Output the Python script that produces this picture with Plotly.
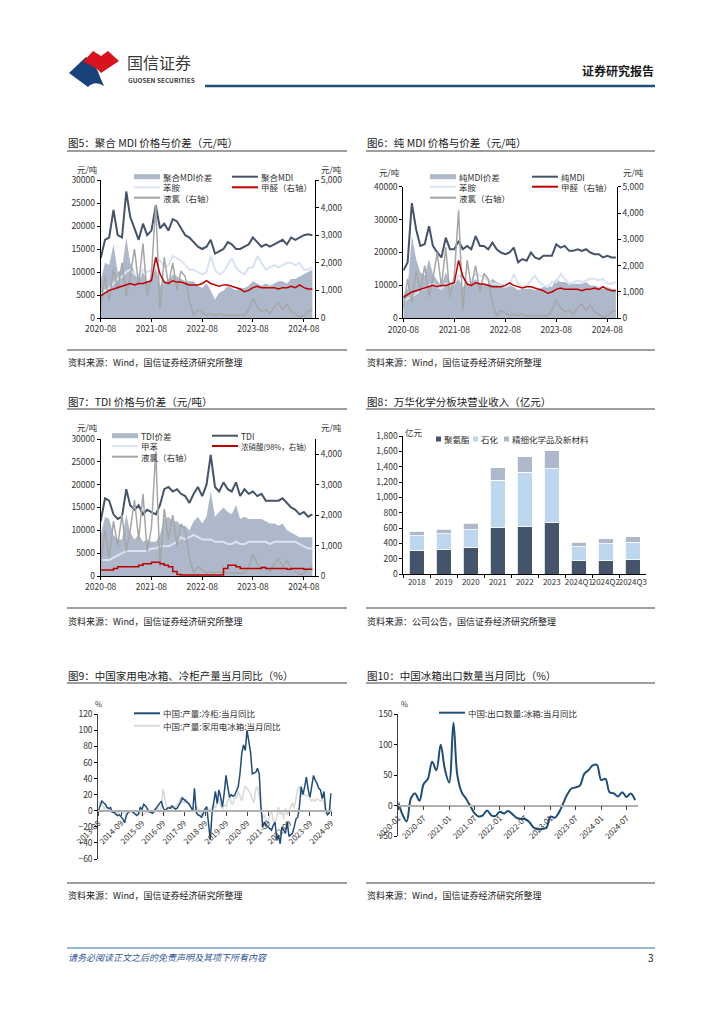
import plotly.graph_objects as go
import pandas as pd

# ---------------- DATA ----------------
# Charts 5-7: monthly prices, 2020-08 .. 2024-10 (元/吨)
price_months = pd.date_range("2020-08-01", "2024-10-01", freq="MS")

poly_mdi = [13000, 17000, 17500, 23500, 18000,
            17500, 27500, 22000, 19500, 17000, 20500, 18000, 19000, 24500, 19500, 20500, 19000,
            21500, 21000, 19500, 18000, 17500, 16500, 15500, 15000, 15500, 17000, 14000, 14500,
            15000, 16500, 16000, 15000, 15000, 15500, 16000, 17500, 16500, 15500, 16000, 15500,
            16000, 16500, 17000, 16000, 17500, 17000, 17500, 18000, 18200, 18000]
poly_spread = [8000, 12000, 11500, 16000, 10000,
               10500, 17500, 12000, 10000, 8000, 10000, 8000, 8500, 11000, 7000, 8000, 8000,
               9500, 9000, 8500, 8000, 8000, 8000, 7000, 6500, 7500, 6000, 4000, 5500,
               6000, 7000, 6500, 6000, 6500, 6500, 7000, 8000, 7500, 7000, 7500, 7000,
               7500, 8000, 8000, 7500, 8500, 8500, 9000, 9500, 10000, 10500]
aniline = [5000, 6000, 6500, 7500, 8500,
           9000, 10000, 10500, 9500, 9000, 10500, 10000, 10500, 13000, 12500, 11000, 11500,
           13500, 13000, 12500, 11500, 10500, 10500, 10000, 9500, 10000, 13500, 10500, 9500,
           10000, 11500, 13000, 11000, 10000, 9500, 11000, 11000, 13500, 12000, 10500, 11000,
           11500, 11000, 11500, 12000, 12000, 11500, 12000, 10500, 10500, 11000]
formaldehyde = [800, 900, 1000, 1050, 1100,
                1150, 1200, 1250, 1200, 1250, 1250, 1300, 1350, 2200, 1600, 1300, 1250,
                1350, 1300, 1300, 1250, 1200, 1200, 1200, 1250, 1350, 1250, 1200, 1150,
                1200, 1200, 1150, 1100, 1050, 950, 1000, 1100, 1150, 1100, 1100, 1100,
                1100, 1050, 1100, 1100, 1150, 1100, 1200, 1100, 1050, 1050]
chlorine = [400, 1500, 600, 1800, 1000,
            2000, 800, 1500, 2500, 1200, 2700, 800, 1600, 4100, 300, 2200, 1200,
            2000, 1000, 1700, 1500, 600, 100, 300, 200, 100, 150, 100, 150,
            100, 100, 100, 100, 100, 100, 300, 700, 400, 250, 300, 150,
            400, 550, 300, 500, 250, 150, 50, 80, 250, 300]
pure_mdi = [14500, 17000, 35000, 27000, 22000,
            22500, 28000, 22000, 20000, 18500, 24500, 21000, 21000, 23500, 21000, 22000, 21000,
            25000, 22000, 22000, 21000, 23000, 21000, 20000, 19500, 20000, 21500, 17000, 18000,
            17500, 20000, 18500, 18000, 19000, 19000, 19000, 22500, 21500, 22000, 20500, 20500,
            21000, 20500, 21000, 20000, 19500, 19500, 18500, 19000, 18500, 18500]
pure_spread = [7000, 9000, 25000, 18000, 14000,
               13000, 18000, 13500, 11500, 10000, 14000, 11000, 10500, 12000, 9500, 10500, 10500,
               12000, 10500, 10500, 10500, 12000, 11000, 10500, 10000, 10000, 9500, 8500, 9000,
               9000, 9000, 8500, 9000, 9500, 10000, 9500, 12000, 11000, 11000, 10500, 10500,
               10500, 10500, 11000, 10000, 10000, 9500, 9000, 9500, 9000, 9000]
tdi = [12000, 17000, 16500, 13500, 12500,
       13000, 19000, 15500, 14500, 15500, 13500, 14500, 14000, 13500, 15500, 19000, 19500,
       18500, 19000, 18000, 17500, 16000, 18000, 19500, 17500, 20000, 26500, 19500, 18500,
       20500, 19000, 18500, 20500, 17500, 19000, 18000, 18500, 17500, 18000, 16500, 16500,
       16500, 16500, 17000, 16000, 15000, 14500, 13500, 14000, 13000, 13500]
tdi_spread = [9000, 13000, 12500, 9000, 8000,
              8000, 13500, 9500, 8000, 9000, 7500, 8000, 7500, 7500, 9000, 12500, 13000,
              12000, 12000, 11000, 11000, 10000, 12000, 13000, 11500, 13000, 18500, 13000, 14000,
              15000, 14000, 13500, 15500, 12500, 13000, 12500, 12500, 12500, 12500, 12000, 11500,
              11500, 11000, 11500, 10000, 9500, 9000, 8500, 8500, 8500, 8500]
toluene = [3500, 3500, 3500, 4000, 4500,
           5000, 5500, 5500, 5500, 5500, 5500, 5500, 6000, 6000, 6500, 6500, 6500,
           7000, 7500, 8500, 8000, 8500, 9000, 8500, 8000, 8000, 8000, 7500, 7500,
           7500, 7000, 7000, 7500, 7000, 7000, 7500, 7500, 7500, 7500, 7500, 7000,
           7500, 7500, 7500, 7500, 7500, 7500, 7000, 6500, 6000, 6000]
nitric_acid = [200, 200, 200, 250, 300,
               300, 300, 300, 300, 350, 400, 400, 450, 450, 400, 350, 300,
               150, 50, 30, 30, 30, 30, 30, 30, 30, 30, 30, 30,
               250, 350, 350, 300, 250, 250, 250, 250, 250, 280, 250, 250,
               250, 250, 250, 220, 250, 250, 250, 220, 220, 220]

# Chart 8: Wanhua segment revenue (亿元)
seg_categories = ["2018", "2019", "2020", "2021", "2022", "2023", "2024Q1", "2024Q2", "2024Q3"]
seg_polyurethane = [309, 317, 352, 604, 626, 678, 174, 174, 191]
seg_petrochem = [191, 205, 222, 622, 704, 692, 183, 222, 222]
seg_fine_chem = [57, 65, 87, 157, 200, 239, 60, 61, 70]

# Chart 9: monthly YoY production (%), 2013-08 .. 2024-09
prod_months = pd.date_range("2013-08-01", "2024-09-01", freq="MS")
freezer_yoy = [0, 6, 12, 10, 8, 4, 3, 4, -2, -2,
               -4, -6, -5, -8, -10, -15, -6, -2, 0, 0,
               -2, -3, -6, -4, 4, 2, 8, 6, 2, -1,
               -2, -3, 0, 3, 6, 9, 12, 4, 0, 2,
               4, 3, 6, 4, 2, 3, 6, 10, 16, 14,
               12, 10, 8, 4, 0, 28, -2, -5, -6, -8,
               -2, 2, 5, -20, -36, -3, 12, 24, 9, 26,
               17, 5, 22, 44, 30, 17, 20, 18, 20, 25,
               30, 46, 71, 82, 75, 100, 88, 73, 46, 47,
               48, 53, 46, 5, -20, -14, -18, -20, -22, -24,
               -18, -14, -37, -30, -41, -20, -24, -28, -14, -32,
               -30, -28, -20, -10, -8, 5, 30, 20, 30, 42,
               26, 17, 30, 44, 38, 34, 28, 26, 15, 24,
               1, -5, -3, 22]
fridge_yoy = [12, 10, 8, 5, 2, 0, 2, 0, -2, -1,
              -3, -2, -4, -5, -3, -2, -4, -3, -2, -1,
              -3, -5, -2, 0, -3, -6, -4, -3, -2, -1,
              0, -3, -2, 2, 3, -2, 4, 27, 18, 5,
              3, 5, 2, 6, 4, 8, 10, 16, 12, 10,
              15, 12, 6, 5, 2, 0, 5, 2, 0, -5,
              -8, 3, 5, 2, 0, 5, 8, 3, 10, 15,
              6, 2, 8, 5, 12, 18, 10, 8, 20, 15,
              25, 18, 12, 22, 30, 28, 25, 22, 15, 10,
              28, 30, 18, 5, -10, -5, -12, -15, -5, 0,
              -12, -15, -8, 5, -5, 0, -10, 3, -5, 0,
              5, 10, 3, 15, 28, 30, 18, 25, 20, 18,
              20, 15, 12, 14, 12, 15, 13, 12, 14, 10,
              -3, -5, 0, 5]
prod_tick_labels = ["2013-08", "2014-09", "2015-09", "2016-09", "2017-09", "2018-09",
                    "2019-09", "2020-09", "2021-09", "2022-09", "2023-09", "2024-09"]

# Chart 10: fridge export volume YoY (%), 2020-01 .. 2024-09
export_months = pd.date_range("2020-01-01", "2024-09-01", freq="MS")
export_yoy = [5, -15, -26, 12, 20, 8, 35, 44, 72, 58, 100, 60,
              38, 136, 50, 22, 12, 0, -12, -18, -16, -8, -16, -17,
              -10, -13, -9, -14, -20, -22, -22, -27, -36, -39, -38, -37,
              -18, -20, -12, 3, 18, 28, 30, 33, 52, 58, 66, 67,
              42, 44, 22, 20, 15, 22, 14, 20, 9]

# ---------------- STYLE / HELPERS ----------------
# page coordinates are those of the 724x1024 page; the html body adds an 8px margin
PAGE_OFF = 8
W, H = 708, 1008
FONT = "Noto Sans CJK SC"
C_DARK = "#44546a"
C_SPREAD = "#adb9ca"
C_LIGHT = "#dae3f3"
C_RED = "#c00000"
C_GREY = "#a6a6a6"
C_BLUE = "#1f4e79"
C_FRIDGE = "#d9d9d9"


def X(px):
    return (px - PAGE_OFF) / W


def Y(py):
    return 1 - (py - PAGE_OFF) / H


def P(x, y):
    return f"{X(x):.5f},{Y(y):.5f}"


annotations = []
shapes = []


def T(x, y, s, size=8.5, color="#333333", xa="left", ya="middle"):
    annotations.append(dict(x=X(x), y=Y(y), xref="paper", yref="paper", text=s,
                            showarrow=False, xanchor=xa, yanchor=ya, borderpad=0,
                            font=dict(family=FONT, size=size, color=color)))


def L(x0, y0, x1, y1, color, width=1):
    shapes.append(dict(type="line", xref="paper", yref="paper",
                       x0=X(x0), y0=Y(y0), x1=X(x1), y1=Y(y1),
                       line=dict(color=color, width=width)))


def R(x0, y0, x1, y1, color):
    shapes.append(dict(type="rect", xref="paper", yref="paper",
                       x0=X(x0), y0=Y(y0), x1=X(x1), y1=Y(y1),
                       line=dict(width=0), fillcolor=color))


def axis(**kw):
    base = dict(showgrid=False, zeroline=False, showline=True, linecolor="#000000",
                linewidth=1, ticks="outside", ticklen=3, tickcolor="#000000",
                tickfont=dict(family=FONT, size=8.5, color="#333333"))
    base.update(kw)
    return base


fig = go.Figure()

# ---------------- CHART 5 ----------------
fig.add_trace(go.Scatter(x=price_months, y=poly_spread, fill="tozeroy", mode="lines",
                         line=dict(width=0), fillcolor=C_SPREAD, xaxis="x", yaxis="y"))
fig.add_trace(go.Scatter(x=price_months, y=aniline, mode="lines",
                         line=dict(color=C_LIGHT, width=2), xaxis="x", yaxis="y"))
fig.add_trace(go.Scatter(x=price_months, y=poly_mdi, mode="lines",
                         line=dict(color=C_DARK, width=2), xaxis="x", yaxis="y"))
fig.add_trace(go.Scatter(x=price_months, y=chlorine, mode="lines",
                         line=dict(color=C_GREY, width=1.5), xaxis="x", yaxis="y7"))
fig.add_trace(go.Scatter(x=price_months, y=formaldehyde, mode="lines",
                         line=dict(color=C_RED, width=1.5), xaxis="x", yaxis="y7"))

# ---------------- CHART 6 ----------------
fig.add_trace(go.Scatter(x=price_months, y=pure_spread, fill="tozeroy", mode="lines",
                         line=dict(width=0), fillcolor=C_SPREAD, xaxis="x2", yaxis="y2"))
fig.add_trace(go.Scatter(x=price_months, y=aniline, mode="lines",
                         line=dict(color=C_LIGHT, width=2), xaxis="x2", yaxis="y2"))
fig.add_trace(go.Scatter(x=price_months, y=pure_mdi, mode="lines",
                         line=dict(color=C_DARK, width=2), xaxis="x2", yaxis="y2"))
fig.add_trace(go.Scatter(x=price_months, y=chlorine, mode="lines",
                         line=dict(color=C_GREY, width=1.5), xaxis="x2", yaxis="y8"))
fig.add_trace(go.Scatter(x=price_months, y=formaldehyde, mode="lines",
                         line=dict(color=C_RED, width=1.5), xaxis="x2", yaxis="y8"))

# ---------------- CHART 7 ----------------
fig.add_trace(go.Scatter(x=price_months, y=tdi_spread, fill="tozeroy", mode="lines",
                         line=dict(width=0), fillcolor=C_SPREAD, xaxis="x3", yaxis="y3"))
fig.add_trace(go.Scatter(x=price_months, y=toluene, mode="lines",
                         line=dict(color=C_LIGHT, width=2), xaxis="x3", yaxis="y3"))
fig.add_trace(go.Scatter(x=price_months, y=tdi, mode="lines",
                         line=dict(color=C_DARK, width=2), xaxis="x3", yaxis="y3"))
fig.add_trace(go.Scatter(x=price_months, y=chlorine, mode="lines",
                         line=dict(color=C_GREY, width=1.5), xaxis="x3", yaxis="y9"))
fig.add_trace(go.Scatter(x=price_months, y=nitric_acid, mode="lines", line_shape="hv",
                         line=dict(color=C_RED, width=1.5), xaxis="x3", yaxis="y9"))

# ---------------- CHART 8 ----------------
for vals, col in [(seg_polyurethane, C_DARK), (seg_petrochem, "#bdd7ee"), (seg_fine_chem, C_SPREAD)]:
    fig.add_trace(go.Bar(x=seg_categories, y=vals, marker=dict(color=col, line=dict(color="white", width=0.8)),
                         width=0.56, xaxis="x4", yaxis="y4"))

# ---------------- CHART 9 ----------------
fig.add_trace(go.Scatter(x=prod_months, y=fridge_yoy, mode="lines",
                         line=dict(color=C_FRIDGE, width=1.5), xaxis="x5", yaxis="y5"))
fig.add_trace(go.Scatter(x=prod_months, y=freezer_yoy, mode="lines",
                         line=dict(color=C_BLUE, width=1.5), xaxis="x5", yaxis="y5"))

# ---------------- CHART 10 ----------------
fig.add_trace(go.Scatter(x=export_months, y=export_yoy, mode="lines", line_shape="spline",
                         line=dict(color=C_BLUE, width=2), xaxis="x6", yaxis="y6"))

# ---------------- AXES ----------------
date_ax = dict(type="date", tick0="2020-08-01", dtick="M12", tickformat="%Y-%m")
y9_rng = [-60, 120]
y9_dom = [Y(859), Y(714.3)]
y10_rng = [-50, 150]
y10_dom = [Y(836), Y(714.3)]
zero9 = y9_dom[0] + (0 - y9_rng[0]) / (y9_rng[1] - y9_rng[0]) * (y9_dom[1] - y9_dom[0])
zero10 = y10_dom[0] + (0 - y10_rng[0]) / (y10_rng[1] - y10_rng[0]) * (y10_dom[1] - y10_dom[0])

layout_axes = dict(
    xaxis=axis(domain=[X(100.7), X(315)], anchor="y", range=["2020-08-01", "2024-10-20"], **date_ax),
    yaxis=axis(domain=[Y(318), Y(180)], anchor="x", range=[0, 30000], dtick=5000, tickformat="d"),
    yaxis7=axis(overlaying="y", side="right", anchor="x", range=[0, 5000], dtick=1000, tickformat=","),
    xaxis2=axis(domain=[X(403.3), X(616.7)], anchor="y2", range=["2020-08-01", "2024-10-07"], **date_ax),
    yaxis2=axis(domain=[Y(318.3), Y(186.7)], anchor="x2", range=[0, 40000], dtick=10000, tickformat="d"),
    yaxis8=axis(overlaying="y2", side="right", anchor="x2", range=[0, 5000], dtick=1000, tickformat=","),
    xaxis3=axis(domain=[X(100.7), X(315)], anchor="y3", range=["2020-08-01", "2024-10-20"], **date_ax),
    yaxis3=axis(domain=[Y(576), Y(439)], anchor="x3", range=[0, 30000], dtick=5000, tickformat="d"),
    yaxis9=axis(overlaying="y3", side="right", anchor="x3", range=[0, 4500], dtick=1000, tickformat=","),
    xaxis4=axis(domain=[X(403.3), X(646.3)], anchor="y4", type="category", tickson="boundaries",
                ticklen=3, tickangle=0, tickfont=dict(family=FONT, size=8, color="#333333")),
    yaxis4=axis(domain=[Y(574), Y(436)], anchor="x4", range=[0, 1800], dtick=200, tickformat=","),
    xaxis5=axis(domain=[X(98.3), X(331.7)], anchor="free", position=zero9, type="date",
                range=["2013-08-01", "2024-09-13"],
                tickvals=[lab + "-01" for lab in prod_tick_labels], ticktext=prod_tick_labels,
                tickangle=-45, linecolor="#b0b0b0", linewidth=1.5, tickcolor="#404040", ticklen=4,
                tickfont=dict(family=FONT, size=8, color="#333333")),
    yaxis5=axis(domain=y9_dom, anchor="x5", range=y9_rng, dtick=20, linecolor="#404040"),
    xaxis6=axis(domain=[X(398.3), X(638)], anchor="free", position=zero10, type="date",
                range=["2020-01-01", "2024-09-22"], tick0="2020-01-01", dtick="M6", tickformat="%Y-%m",
                tickangle=-45, linecolor="#b0b0b0", linewidth=1.5, tickcolor="#404040", ticklen=4,
                tickfont=dict(family=FONT, size=8, color="#333333")),
    yaxis6=axis(domain=y10_dom, anchor="x6", range=y10_rng, dtick=50, linecolor="#404040"),
)

# ---------------- HEADER ----------------
shapes.append(dict(type="path", xref="paper", yref="paper",
                   path=f"M {P(69,73)} L {P(86,57)} Q {P(97,66)} {P(100,77)} L {P(104,86)} Q {P(95,80)} {P(88,87)} Z",
                   fillcolor="#17427a", line=dict(width=0)))
shapes.append(dict(type="path", xref="paper", yref="paper",
                   path=f"M {P(83,62)} L {P(93,51)} L {P(101,56)} L {P(108,51)} L {P(119,61)} L {P(101,73)} Q {P(95,66)} {P(83,62)} Z",
                   fillcolor="#d7141e", line=dict(width=0)))
T(126, 62, "国信证券", size=16, color="#3a3a3a")
T(127, 80.5, "<b>GUOSEN SECURITIES</b>", size=6.5, color="#3a3a3a")
T(655, 70, "<b>证券研究报告</b>", size=12, color="#1a1a1a", xa="right")
L(205, 86, 655, 86, "#1f4e79", 2.5)

# ---------------- TITLES / SOURCES ----------------
cols = [(67, 347), (366, 655)]
rows = [(143, 151, 350, 362), (402, 409, 608, 621), (675, 683, 883, 895)]
titles = [["图5：聚合 MDI 价格与价差（元/吨）", "图6：纯 MDI 价格与价差（元/吨）"],
          ["图7：TDI 价格与价差（元/吨）", "图8：万华化学分板块营业收入（亿元）"],
          ["图9：中国家用电冰箱、冷柜产量当月同比（%）", "图10：中国冰箱出口数量当月同比（%）"]]
sources = [["资料来源：Wind，国信证券经济研究所整理", "资料来源：Wind，国信证券经济研究所整理"],
           ["资料来源：Wind，国信证券经济研究所整理", "资料来源：公司公告，国信证券经济研究所整理"],
           ["资料来源：Wind，国信证券经济研究所整理", "资料来源：Wind，国信证券经济研究所整理"]]
for r, (ty, tl, sl, sy) in enumerate(rows):
    for c, (x0, x1) in enumerate(cols):
        T(x0, ty, titles[r][c], size=10.5, color="#1a1a1a")
        L(x0, tl, x1, tl, "#404040", 1.2)
        L(x0, sl, x1, sl, "#404040", 1.2)
        T(x0, sy, sources[r][c], size=9, color="#1a1a1a")

# ---------------- UNITS ----------------
T(76, 168.5, "元/吨", size=8.5)
T(320, 168.5, "元/吨", size=8.5)
T(378, 172, "元/吨", size=8.5)
T(622, 172, "元/吨", size=8.5)
T(76, 427.5, "元/吨", size=8.5)
T(320, 427.5, "元/吨", size=8.5)
T(404, 432, "亿元", size=8.5)
T(94, 703, "%", size=7.5)
T(400, 703, "%", size=7.5)


# ---------------- LEGENDS ----------------
def leg_area(x, y, label):
    R(x, y - 2.5, x + 26, y + 2.5, C_SPREAD)
    T(x + 28, y, label)


def leg_line(x, y, label, color, width=2, size=8.5):
    L(x, y, x + 26, y, color, width)
    T(x + 28, y, label, size=size)


leg_area(134, 176.7, "聚合MDI价差")
leg_line(232, 176.7, "聚合MDI", C_DARK)
leg_line(134, 187.3, "苯胺", C_LIGHT)
leg_line(232, 187.3, "甲醛（右轴）", C_RED)
leg_line(134, 197.7, "液氯（右轴）", C_GREY)

leg_area(430, 176.7, "纯MDI价差")
leg_line(532, 176.7, "纯MDI", C_DARK)
leg_line(430, 186.7, "苯胺", C_LIGHT)
leg_line(532, 186.7, "甲醛（右轴）", C_RED)
leg_line(430, 197.7, "液氯（右轴）", C_GREY)

leg_area(112, 435.7, "TDI价差")
leg_line(212, 435.7, "TDI", C_DARK)
leg_line(112, 446, "甲苯", C_LIGHT)
leg_line(212, 446, "浓硝酸(98%，右轴)", C_RED, size=7.5)
leg_line(112, 456.7, "液氯（右轴）", C_GREY)

for xs, col, lab in [(436, C_DARK, "聚氨酯"), (473, "#bdd7ee", "石化"), (504, C_SPREAD, "精细化学品及新材料")]:
    R(xs, 436.5, xs + 5, 441.5, col)
    T(xs + 7, 439, lab)

leg_line(134, 713.3, "中国:产量:冷柜:当月同比", C_BLUE)
leg_line(134, 725.7, "中国:产量:家用电冰箱:当月同比", C_FRIDGE)
leg_line(439, 712.7, "中国:出口数量:冰箱:当月同比", C_BLUE)

# ---------------- FOOTER ----------------
L(67, 948, 655, 948, "#2e75b6", 1)
T(67, 957, "<i>请务必阅读正文之后的免责声明及其项下所有内容</i>", size=9, color="#2f5597")
T(655, 957, "3", size=10, color="#1a1a1a", xa="right")

fig.update_layout(
    template="none", width=W, height=H, margin=dict(l=0, r=0, t=0, b=0),
    paper_bgcolor="white", plot_bgcolor="white", showlegend=False,
    barmode="stack", bargap=0.44,
    annotations=annotations, shapes=shapes,
    font=dict(family=FONT, size=9, color="#333333"),
    **layout_axes,
)

fig.write_html("out.html")
